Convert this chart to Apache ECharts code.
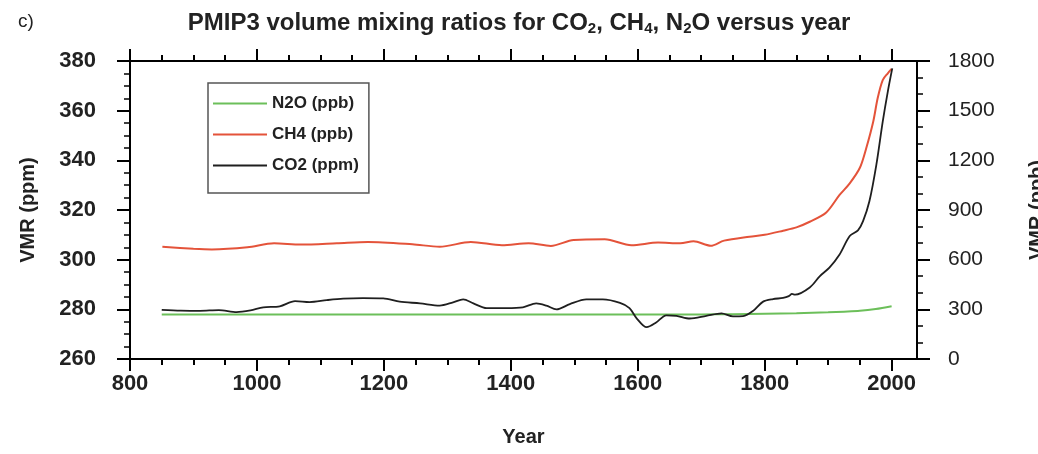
<!DOCTYPE html>
<html>
<head>
<meta charset="utf-8">
<script src="https://cdn.jsdelivr.net/npm/echarts@6/dist/echarts.min.js"></script>
<style>
html,body{margin:0;padding:0;background:#fff;}
#chart{width:1038px;height:454px;}
</style>
</head>
<body>
<div id="chart"></div>
<script>
// ---- data ----
const co2Years = [850,880,910,940,968,990,1010,1036,1060,1083,1110,1136,1167,1199,1225,1257,1288,1309,1325,1341,1362,1393,1419,1440,1456,1472,1493,1519,1545,1572,1587,1598,1614,1629,1645,1661,1682,1708,1732,1750,1766,1782,1797,1813,1829,1838,1843,1848,1871,1887,1902,1918,1934,1947,1955,1965,1976,1986,1994,2001];
const co2Values = [279.8,279.5,279.4,279.7,278.9,279.6,280.8,281.2,283.3,282.9,283.7,284.3,284.5,284.4,283.1,282.4,281.5,282.8,284.0,282.4,280.5,280.5,280.8,282.4,281.5,280.0,282.1,284.0,284.0,282.6,280.5,276.5,272.8,274.7,277.6,277.4,276.3,277.4,278.4,277.2,277.3,279.4,283.0,284.1,284.6,285.3,286.2,285.9,288.8,293.4,296.8,302.1,309.5,311.8,315.5,323.5,338.3,355.6,367.7,377.0];

const ch4Years = [851,900,929,985,1027,1069,1126,1175,1245,1288,1337,1386,1428,1463,1499,1548,1590,1632,1667,1688,1715,1736,1776,1800,1829,1850,1871,1897,1918,1934,1950,1960,1971,1978,1986,1994,2000];
const ch4Values = [678,666,662,675,699,691,699,707,693,678,707,687,699,683,719,723,687,703,699,711,684,715,739,750,775,795,829,885,991,1061,1155,1273,1433,1575,1685,1726,1752];

const n2oYears = [850,1000,1200,1400,1600,1700,1750,1800,1850,1900,1925,1950,1975,2000];
const n2oValues = [269,269,269,269,269,269,271,274,277,282,286,291,302,319];

const xMajorTicks = [800,1000,1200,1400,1600,1800,2000];
const xMinorTicks = [850,900,950,1050,1100,1150,1250,1300,1350,1450,1500,1550,1650,1700,1750,1850,1900,1950];

const seriesNames = ['N2O (ppb)','CH4 (ppb)','CO2 (ppm)'];

function pairs(xs, ys){ return xs.map((x,i)=>[x, ys[i]]); }
const plain = v => String(v);

const FONT = 'Liberation Sans';
const chart = echarts.init(document.getElementById('chart'), null, {renderer:'canvas'});

function xAxisDef(pos, ticks, len, withLabels, showLine){
  return {
    type:'value', min:800, max:2040, position:pos, gridIndex:0,
    axisLine:{show:showLine, lineStyle:{color:'#000', width:2}},
    axisTick:{show:true, inside:false, length:len, customValues:ticks, lineStyle:{color:'#000', width:2}},
    axisLabel:{show:withLabels, customValues:ticks, formatter:plain, margin:14, color:'#222', fontFamily:FONT, fontSize:22, fontWeight:'bold'},
    splitLine:{show:false},
    name: (withLabels ? 'Year' : ''),
    nameLocation:'middle', nameGap:68,
    nameTextStyle:{fontFamily:FONT, fontSize:20, fontWeight:'bold', color:'#222'}
  };
}

const option = {
  backgroundColor:'#fff',
  animation:false,
  title:[{
    text:'PMIP3 volume mixing ratios for CO{s|2}, CH{s|4}, N{s|2}O versus year',
    left:'center', top:5,
    textStyle:{fontFamily:FONT, fontSize:24, fontWeight:'bold', color:'#222', verticalAlign:'top',
      rich:{ s:{fontFamily:FONT, fontSize:15, fontWeight:'bold', color:'#222', verticalAlign:'top', padding:[11,0,0,0]} } }
  },{
    text:'c)', left:13, top:7,
    textStyle:{fontFamily:FONT, fontSize:19, fontWeight:'normal', color:'#222'}
  }],
  legend:{
    data:seriesNames, orient:'vertical', left:208, top:83,
    icon:'rect', itemWidth:54, itemHeight:2, itemGap:14,
    padding:[12,10,19,5],
    borderColor:'#555', borderWidth:1.5, backgroundColor:'#fff',
    textStyle:{fontFamily:FONT, fontSize:17, fontWeight:'bold', color:'#222'}
  },
  grid:{left:130, right:121, top:61, bottom:95, containLabel:false, outerBoundsMode:'none'},
  xAxis:[
    xAxisDef('bottom', xMajorTicks, 12, true, true),
    xAxisDef('bottom', xMinorTicks, 6, false, false),
    xAxisDef('top', xMajorTicks, 12, false, true),
    xAxisDef('top', xMinorTicks, 6, false, false)
  ],
  yAxis:[{
    type:'value', min:260, max:380, interval:20, position:'left',
    axisLine:{show:true, lineStyle:{color:'#000', width:2}},
    axisTick:{show:true, inside:false, length:13, lineStyle:{color:'#000', width:2}},
    minorTick:{show:true, splitNumber:4, length:6, lineStyle:{color:'#000', width:1.5}},
    axisLabel:{margin:34, formatter:plain, color:'#222', fontFamily:FONT, fontSize:22, fontWeight:'bold'},
    splitLine:{show:false},
    name:'VMR (ppm)', nameLocation:'middle', nameGap:92, nameRotate:90,
    nameTextStyle:{fontFamily:FONT, fontSize:20, fontWeight:'bold', color:'#222'}
  },{
    type:'value', min:0, max:1800, interval:300, position:'right',
    axisLine:{show:true, lineStyle:{color:'#000', width:2}},
    axisTick:{show:true, inside:false, length:13, lineStyle:{color:'#000', width:2}},
    minorTick:{show:true, splitNumber:3, length:6, lineStyle:{color:'#000', width:1.5}},
    axisLabel:{margin:31, formatter:plain, color:'#222', fontFamily:FONT, fontSize:21, fontWeight:'normal'},
    splitLine:{show:false},
    name:'VMR (ppb)', nameLocation:'middle', nameGap:110, nameRotate:90,
    nameTextStyle:{fontFamily:FONT, fontSize:20, fontWeight:'bold', color:'#222'}
  }],
  series:[{
    name:seriesNames[0], type:'line', xAxisIndex:0, yAxisIndex:1,
    data:pairs(n2oYears, n2oValues), smooth:0.3, symbol:'none',
    lineStyle:{color:'#6cbf5a', width:2}, itemStyle:{color:'#6cbf5a'}
  },{
    name:seriesNames[1], type:'line', xAxisIndex:0, yAxisIndex:1,
    data:pairs(ch4Years, ch4Values), smooth:0.3, symbol:'none',
    lineStyle:{color:'#e4533a', width:2}, itemStyle:{color:'#e4533a'}
  },{
    name:seriesNames[2], type:'line', xAxisIndex:0, yAxisIndex:0,
    data:pairs(co2Years, co2Values), smooth:0.3, symbol:'none',
    lineStyle:{color:'#1f1f1f', width:1.8}, itemStyle:{color:'#1f1f1f'}
  }]
};
chart.setOption(option);
</script>
</body>
</html>
